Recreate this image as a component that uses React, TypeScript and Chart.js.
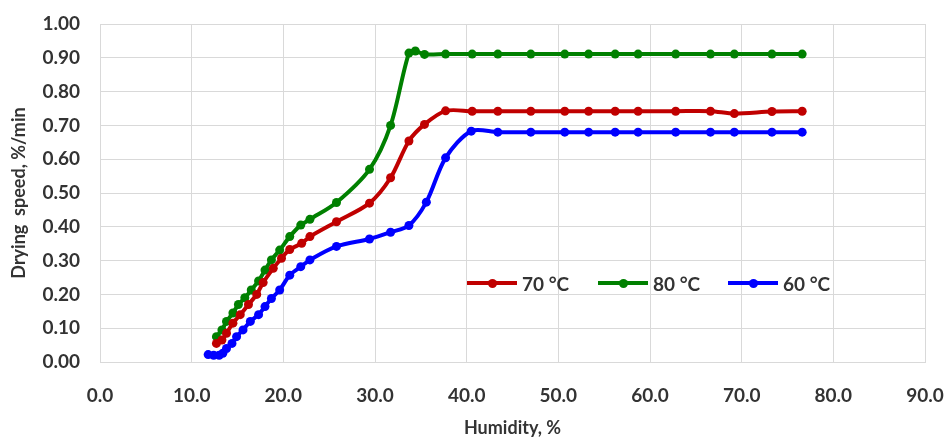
import React, { useEffect, useRef } from "react";
import { Chart, registerables } from "chart.js";

Chart.register(...registerables);

const seriesNames = ["70 °C", "80 °C", "60 °C"];
const seriesColors = ["#c00000", "#008000", "#0000ff"];

const hum70 = [12.7, 13.3, 13.8, 14.5, 15.3, 16.2, 17.1, 17.8, 18.9, 19.8, 20.7, 22.0, 22.9, 25.8, 29.4, 31.7, 33.7, 35.4, 37.7, 40.6, 43.4, 47.0, 50.7, 53.3, 56.2, 58.7, 62.8, 66.6, 69.2, 73.3, 76.6];
const speed70 = [0.055, 0.065, 0.085, 0.115, 0.14, 0.17, 0.2, 0.235, 0.277, 0.307, 0.333, 0.351, 0.371, 0.415, 0.47, 0.545, 0.654, 0.703, 0.743, 0.742, 0.742, 0.742, 0.742, 0.742, 0.742, 0.742, 0.742, 0.742, 0.735, 0.741, 0.742];

const hum80 = [12.7, 13.3, 13.8, 14.5, 15.1, 15.8, 16.5, 17.3, 18.0, 18.7, 19.6, 20.7, 21.9, 22.9, 25.8, 29.4, 31.7, 33.7, 34.4, 35.4, 37.7, 40.6, 43.4, 47.0, 50.7, 53.3, 56.2, 58.7, 62.8, 66.6, 69.2, 73.3, 76.6];
const speed80 = [0.075, 0.095, 0.12, 0.145, 0.17, 0.19, 0.213, 0.24, 0.272, 0.302, 0.331, 0.371, 0.405, 0.422, 0.472, 0.57, 0.70, 0.914, 0.92, 0.91, 0.911, 0.911, 0.911, 0.911, 0.911, 0.911, 0.911, 0.911, 0.911, 0.911, 0.911, 0.911, 0.911];

const hum60 = [11.8, 12.4, 13.0, 13.4, 13.8, 14.4, 14.9, 15.6, 16.4, 17.3, 18.0, 18.7, 19.6, 20.7, 21.9, 22.9, 25.8, 29.4, 31.7, 33.7, 35.6, 37.7, 40.5, 43.4, 47.0, 50.7, 53.3, 56.2, 58.7, 62.8, 66.6, 69.2, 73.3, 76.6];
const speed60 = [0.022, 0.02, 0.02, 0.026, 0.04, 0.055, 0.075, 0.095, 0.12, 0.14, 0.164, 0.188, 0.213, 0.257, 0.282, 0.302, 0.342, 0.364, 0.384, 0.404, 0.473, 0.604, 0.683, 0.68, 0.68, 0.68, 0.68, 0.68, 0.68, 0.68, 0.68, 0.68, 0.68, 0.68];

const xTitle = "Humidity, %";
const yTitle = "Drying  speed, %/min";

const FONT = "Lato, 'Open Sans', sans-serif";
const TEXT_COLOR = "#333333";
const GRID_COLOR = "#d9d9d9";

function toPoints(xs: number[], ys: number[]) {
  return xs.map((x, i) => ({ x, y: ys[i] }));
}

export default function App() {
  const canvasRef = useRef<HTMLCanvasElement | null>(null);

  useEffect(() => {
    document.body.style.margin = "0";
    const canvas = canvasRef.current;
    if (!canvas) return;
    const allX = [hum70, hum80, hum60];
    const allY = [speed70, speed80, speed60];
    const chart = new Chart(canvas, {
      type: "line",
      data: {
        datasets: seriesNames.map((name, i) => ({
          label: name,
          data: toPoints(allX[i], allY[i]),
          borderColor: seriesColors[i],
          backgroundColor: seriesColors[i],
          pointBackgroundColor: seriesColors[i],
          pointBorderColor: seriesColors[i],
          pointRadius: 4.5,
          pointBorderWidth: 0,
          borderWidth: 4,
          tension: 0.3,
          fill: false,
        })),
      },
      options: {
        responsive: false,
        animation: false,
        layout: { autoPadding: false, padding: { left: 0, right: 19, top: 24, bottom: 0 } },
        plugins: {
          legend: { display: false },
          tooltip: { enabled: false },
        },
        scales: {
          x: {
            type: "linear",
            min: 0,
            max: 90,
            afterFit: (s: any) => {
              s.height = 77;
              s.paddingLeft = 0;
              s.paddingRight = 0;
            },
            ticks: {
              stepSize: 10,
              padding: 22,
              color: TEXT_COLOR,
              font: { family: FONT, size: 19, weight: "bold" },
              callback: (v: any) => Number(v).toFixed(1),
            },
            grid: { color: GRID_COLOR, drawTicks: false, lineWidth: 1 },
            border: { color: GRID_COLOR },
            title: {
              display: true,
              text: xTitle,
              color: TEXT_COLOR,
              font: { family: FONT, size: 18, weight: "bold" },
              padding: { top: 0, bottom: 0 },
            },
          },
          y: {
            type: "linear",
            min: 0,
            max: 1,
            afterFit: (s: any) => {
              s.width = 100;
              s.paddingTop = 0;
              s.paddingBottom = 0;
            },
            ticks: {
              stepSize: 0.1,
              padding: 20,
              color: TEXT_COLOR,
              font: { family: FONT, size: 19, weight: "bold" },
              callback: (v: any) => Number(v).toFixed(2),
            },
            grid: { color: GRID_COLOR, drawTicks: false, lineWidth: 1 },
            border: { color: GRID_COLOR },
            title: {
              display: true,
              text: yTitle,
              color: TEXT_COLOR,
              font: { family: FONT, size: 18, weight: "bold" },
              padding: { top: 8, bottom: 0 },
            },
          },
        },
      },
    });
    return () => chart.destroy();
  }, []);

  const legendPos = [467, 598, 728];

  return (
    <div style={{ position: "relative", width: 944, height: 439 }}>
      <canvas ref={canvasRef} width={944} height={439} style={{ display: "block" }} />
      {seriesNames.map((name, i) => (
        <div
          key={name}
          style={{
            position: "absolute",
            left: legendPos[i],
            top: 271,
            height: 24,
            display: "flex",
            alignItems: "center",
            fontFamily: FONT,
            fontWeight: "bold",
            fontSize: 19,
            color: TEXT_COLOR,
            whiteSpace: "pre",
          }}
        >
          <div style={{ position: "relative", width: 50, height: 4, background: seriesColors[i], marginRight: 5 }}>
            <div
              style={{
                position: "absolute",
                left: 20.5,
                top: -2.5,
                width: 9,
                height: 9,
                borderRadius: 4.5,
                background: seriesColors[i],
              }}
            />
          </div>
          <span>{name}</span>
        </div>
      ))}
    </div>
  );
}
